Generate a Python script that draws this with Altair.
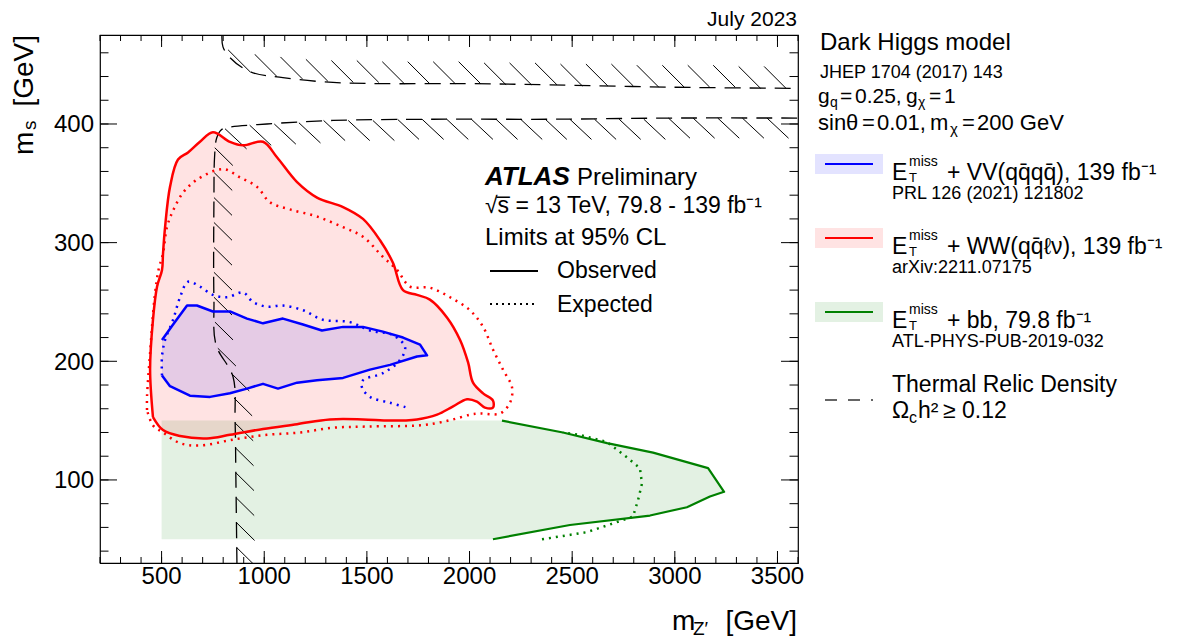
import altair as alt
import pandas as pd

FONT = "Liberation Sans, Arial, Helvetica, sans-serif"
W, H = 698, 528

# ---------------- axis ticks ----------------
x_major = [500, 1000, 1500, 2000, 2500, 3000, 3500]
y_major = [100, 200, 300, 400]
x_minor = list(range(200, 3601, 100))
y_minor = list(range(40, 475, 20))

# ---------------- E_T^miss + WW (red) ----------------
red_obs_x = [458, 444, 458, 478, 502, 507, 517, 541, 580, 629, 687, 750, 833, 897, 994, 1062, 1160, 1257,
             1384, 1481, 1564, 1627, 1676, 1744, 1807, 1890, 1954, 1993, 2017, 2066, 2114, 2114, 2075, 2036,
             1988, 1920, 1842, 1744, 1613, 1481, 1320, 1160, 994, 833, 721, 590, 507, 458]
red_obs_y = [153, 193, 235, 263, 277, 291, 313, 347, 370, 376, 385, 393, 385, 382, 385, 372, 351, 338,
             330, 320, 302, 283, 260, 256, 252, 237, 218, 199, 182, 173, 167, 161, 161, 166,
             168, 162, 155, 151, 150, 151, 151, 147, 143, 138, 135, 137, 142, 153]
red_exp_x = [429, 429, 444, 466, 485, 507, 526, 556, 604, 672, 799, 882, 965, 1028, 1125, 1257, 1384, 1481,
             1578, 1647, 1710, 1807, 1905, 2002, 2066, 2114, 2163, 2207, 2197, 2148, 2051, 2002, 1920, 1842,
             1759, 1501, 1335, 1174, 1013, 848, 687, 590, 507, 458, 429]
red_exp_y = [159, 170, 207, 254, 277, 291, 313, 327, 342, 353, 362, 355, 347, 334, 328, 322, 313, 305,
             288, 277, 263, 262, 254, 243, 229, 210, 193, 178, 165, 156, 156, 155, 151, 148,
             146, 145, 144, 140, 138, 134, 129, 131, 140, 146, 159]

# ---------------- E_T^miss + VV (blue) ----------------
blue_obs_x = [502, 556, 624, 672, 750, 833, 916, 994, 1091, 1189, 1281, 1384, 1481, 1578, 1676, 1759, 1793,
              1744, 1613, 1515, 1384, 1257, 1160, 1067, 994, 916, 833, 736, 638, 541, 502]
blue_obs_y = [218, 231, 247, 247, 242, 242, 236, 232, 236, 231, 226, 229, 229, 225, 220, 214, 205,
              204, 197, 193, 186, 184, 182, 177, 181, 177, 173, 170, 171, 179, 188]
blue_exp_x = [502, 502, 517, 556, 590, 629, 687, 750, 819, 897, 945, 1013, 1091, 1189, 1286, 1418, 1515,
              1627, 1686, 1661, 1578, 1481, 1476, 1515, 1613, 1695]
blue_exp_y = [188, 204, 218, 235, 254, 267, 263, 256, 254, 258, 250, 246, 247, 243, 235, 233, 226,
              222, 212, 201, 190, 184, 178, 170, 165, 161]

# ---------------- E_T^miss + bb (green) ----------------
green_obs_x = [2158, 2455, 2670, 2894, 3162, 3240, 3171, 3059, 2879, 2489, 2114]
green_obs_y = [150, 140, 131, 123, 110, 90, 86, 77, 70, 62, 50]
green_exp_x = [2353, 2572, 2796, 2821, 2840, 2830, 2767, 2670, 2538, 2455]
green_exp_y = [50, 56, 69, 83, 97, 110, 119, 132, 138, 140]
green_grid_min_x = 500
green_grid_y = [150, 50]

# ---------------- thermal relic density ----------------
relic_lo_x = [867, 862, 858, 848, 765, 755, 755, 758, 768, 790, 819, 1013, 1335, 1822, 2392, 2991, 3600]
relic_lo_y = [30, 100, 150, 187, 214, 252, 336, 372, 388, 395, 397, 400, 403, 404, 404, 405, 405]
relic_hi_x = [794, 799, 833, 931, 1091, 1335, 1578, 1988, 2392, 2991, 3600]
relic_hi_y = [475, 465, 456, 444, 439, 435, 434, 434, 433, 431, 430]

# hatch anchor points on the relic contours
hv_x = [759, 756, 755, 755, 755, 755, 755, 760, 774, 839, 853, 858, 860, 862, 863, 865, 866]
hv_y = [380, 359, 338, 317, 296, 275, 254, 233, 211, 190, 169, 148, 127, 106, 85, 64, 43]
hl_x = [809, 929, 1049, 1169, 1289, 1409, 1529, 1649, 1769, 1889, 2009, 2129, 2249, 2369, 2489, 2609,
        2729, 2849, 2969, 3089, 3209, 3329, 3449]
hl_y = [396, 399, 400, 401, 403, 403, 403, 404, 404, 404, 404, 404, 404, 404, 404, 404,
        404, 404, 405, 405, 405, 405, 405]
hu_x = [931, 1062, 1186, 1310, 1434, 1558, 1682, 1806, 1930, 2054, 2178, 2302, 2426, 2550, 2674, 2798,
        2922, 3046, 3170, 3294, 3418, 3542]
hu_y = [444, 440, 438, 436, 435, 435, 434, 434, 434, 434, 433, 433, 433, 432, 432, 432,
        431, 431, 431, 431, 430, 430]

XS = alt.Scale(domain=[200, 3600], nice=False, zero=False)
YS = alt.Scale(domain=[30, 475], nice=False, zero=False)
SMOOTH = "catmull-rom"


def frame(xs, ys):
    return pd.DataFrame({"x": xs, "y": ys, "i": list(range(len(xs)))})


def xy():
    return dict(x=alt.X("x:Q", scale=XS, axis=None), y=alt.Y("y:Q", scale=YS, axis=None))


def fill(df, color, op, interp="linear"):
    return alt.Chart(df).mark_line(fill=color, fillOpacity=op, strokeOpacity=0, clip=True,
                                   interpolate=interp).encode(order="i:Q", **xy())


def curve(df, color, width, dash=None, interp="linear"):
    kw = dict(color=color, strokeWidth=width, clip=True, strokeCap="butt", strokeJoin="round",
              interpolate=interp)
    if dash:
        kw["strokeDash"] = dash
    return alt.Chart(df).mark_line(**kw).encode(order="i:Q", **xy())


def hatch(xs, ys, dx, dy):
    df = pd.DataFrame({"x": xs, "y": ys})
    df["x2"] = df["x"] + dx
    df["y2"] = df["y"] + dy
    return alt.Chart(df).mark_rule(color="black", strokeWidth=1, clip=True).encode(
        x2="x2:Q", y2="y2:Q", **xy())


def ticks(vals, chan, side, L):
    df = pd.DataFrame({"v": vals})
    m = alt.Chart(df).mark_rule(color="black", strokeWidth=1)
    if chan == "x":
        enc = dict(x=alt.X("v:Q", scale=XS, axis=None))
        if side == "bottom":
            enc.update(y=alt.value(H), y2=alt.value(H - L))
        else:
            enc.update(y=alt.value(0), y2=alt.value(L))
    else:
        enc = dict(y=alt.Y("v:Q", scale=YS, axis=None))
        if side == "left":
            enc.update(x=alt.value(0), x2=alt.value(L))
        else:
            enc.update(x=alt.value(W), x2=alt.value(W - L))
    return m.encode(**enc)


def tick_labels(vals, chan):
    df = pd.DataFrame({"v": vals})
    if chan == "x":
        return alt.Chart(df).mark_text(font=FONT, fontSize=24, color="black", align="center",
                                       baseline="alphabetic").encode(
            x=alt.X("v:Q", scale=XS, axis=None), y=alt.value(H + 21), text="v:Q")
    return alt.Chart(df).mark_text(font=FONT, fontSize=24, color="black", align="right",
                                   baseline="alphabetic", dy=8.5).encode(
        y=alt.Y("v:Q", scale=YS, axis=None), x=alt.value(-6), text="v:Q")


one = pd.DataFrame({"k": [0]})


def txt(s, px, py, size, align="left", angle=None, weight="normal", style="normal"):
    kw = dict(text=s, align=align, baseline="alphabetic", fontSize=size, font=FONT, color="black",
              fontWeight=weight, fontStyle=style)
    if angle is not None:
        kw["angle"] = angle
    return alt.Chart(one).mark_text(**kw).encode(x=alt.value(px), y=alt.value(py))


def hline(x1, x2, y, color, width, dash=None):
    kw = dict(color=color, strokeWidth=width, strokeCap="butt")
    if dash:
        kw["strokeDash"] = dash
    return alt.Chart(one).mark_rule(**kw).encode(x=alt.value(x1), x2=alt.value(x2), y=alt.value(y))


def box(x1, x2, y1, y2, color, op):
    return alt.Chart(one).mark_rect(color=color, opacity=op).encode(
        x=alt.value(x1), x2=alt.value(x2), y=alt.value(y1), y2=alt.value(y2))


green_fill_df = frame([green_grid_min_x] + green_obs_x + [green_grid_min_x],
                      [green_grid_y[0]] + green_obs_y + [green_grid_y[1]])

RED, BLUE, GREEN = "#ff0000", "#0000ff", "#008000"
DOT = [2, 5]

layers = [
    fill(green_fill_df, GREEN, 0.11),
    fill(frame(red_obs_x, red_obs_y), RED, 0.11, SMOOTH),
    fill(frame(blue_obs_x, blue_obs_y), BLUE, 0.1),
    # thermal relic
    curve(frame(relic_lo_x, relic_lo_y), "black", 1.3, [16, 9], SMOOTH),
    curve(frame(relic_hi_x, relic_hi_y), "black", 1.3, [16, 9], SMOOTH),
    hatch(hv_x, hv_y, 88, -15),
    hatch(hl_x, hl_y, 105, -17),
    hatch(hu_x, hu_y, -107, 18.5),
    # limits
    curve(frame(red_exp_x, red_exp_y), RED, 2.5, DOT, SMOOTH),
    curve(frame(red_obs_x, red_obs_y), RED, 2.5, None, SMOOTH),
    curve(frame(blue_exp_x, blue_exp_y), BLUE, 2.5, DOT, SMOOTH),
    curve(frame(blue_obs_x, blue_obs_y), BLUE, 2.5),
    curve(frame(green_exp_x, green_exp_y), GREEN, 2.5, DOT),
    curve(frame(green_obs_x, green_obs_y), GREEN, 2.2),
    # ticks on all four sides, pointing inwards
    ticks(x_major, "x", "bottom", 12), ticks(x_minor, "x", "bottom", 6),
    ticks(x_major, "x", "top", 12), ticks(x_minor, "x", "top", 6),
    ticks(y_major, "y", "left", 17), ticks(y_minor, "y", "left", 8.5),
    ticks(y_major, "y", "right", 17), ticks(y_minor, "y", "right", 8.5),
    tick_labels(x_major, "x"),
    tick_labels(y_major, "y"),
]

# axis titles
layers += [
    txt("m", 572, 595, 28),
    txt("Z\u2032", 593, 600, 19),
    txt("[GeV]", 697, 595, 28, align="right"),
    txt("m", -67, 120, 28, angle=270),
    txt("s", -64, 95, 19, angle=270),
    txt("[GeV]", -67, 0, 28, align="right", angle=270),
    txt("July 2023", 697, -9, 21, align="right"),
]

# ATLAS label block
layers += [
    txt("ATLAS", 385, 150, 26, weight="bold", style="italic"),
    txt("Preliminary", 477, 150, 24),
    txt("\u221as\u0305 = 13 TeV, 79.8 - 139 fb\u207b\u00b9", 385, 178, 23),
    txt("Limits at 95% CL", 385, 210, 24),
    hline(390, 438, 236, "black", 2),
    txt("Observed", 457, 243, 23),
    hline(390, 438, 269, "black", 2, [2, 4]),
    txt("Expected", 457, 277, 23),
]

# right-hand legend
layers += [
    txt("Dark Higgs model", 720, 15, 24),
    txt("JHEP 1704 (2017) 143", 720, 43, 18),
    txt("g", 718, 68, 21), txt("q", 730, 72, 14), txt("=", 740, 68, 21), txt("0.25,", 755, 68, 21),
    txt("g", 806, 68, 21), txt("\u03c7", 818, 72, 14), txt("=", 829, 68, 21), txt("1", 844, 68, 21),
    txt("sin\u03b8", 718, 95, 22), txt("=", 762, 95, 22), txt("0.01,", 777, 95, 22),
    txt("m", 830, 95, 22), txt("\u03c7", 850, 99, 15), txt("=", 862, 95, 22), txt("200 GeV", 877, 95, 22),
]


def entry(y_box, color, rest, ref):
    yb = y_box
    return [
        box(715, 783, yb, yb + 20, color, 0.11),
        hline(725, 773, yb + 10, color, 2.2),
        txt("E", 792, yb + 26, 23),
        txt("miss", 809, yb + 12, 14),
        txt("T", 809, yb + 28, 13),
        txt(rest, 847, yb + 26, 23),
        txt(ref, 792, yb + 45, 18),
    ]


q = "q"
qb = "q\u0304"
layers += entry(119, BLUE, "+ VV(" + q + qb + q + qb + "), 139 fb\u207b\u00b9", "PRL 126 (2021) 121802")
layers += entry(193, RED, "+ WW(" + q + qb + "\u2113\u03bd), 139 fb\u207b\u00b9", "arXiv:2211.07175")
layers += entry(267, GREEN, "+ bb, 79.8 fb\u207b\u00b9", "ATL-PHYS-PUB-2019-032")
layers += [
    hline(725, 773, 365, "#333333", 1.5, [12, 11]),
    txt("Thermal Relic Density", 792, 357, 23),
    txt("\u03a9", 792, 383, 23),
    txt("c", 809, 388, 16),
    txt("h\u00b2", 818, 383, 23),
    txt("\u2265 0.12", 843, 383, 23),
]

chart = alt.layer(*layers).properties(
    width=W, height=H,
    padding={"left": 92, "top": 27, "right": 376, "bottom": 76},
    autosize=alt.AutoSizeParams(type="none"),
).configure_view(stroke="black", strokeWidth=1.2)

chart.save("out.html", embed_options={"renderer": "svg", "actions": False})
